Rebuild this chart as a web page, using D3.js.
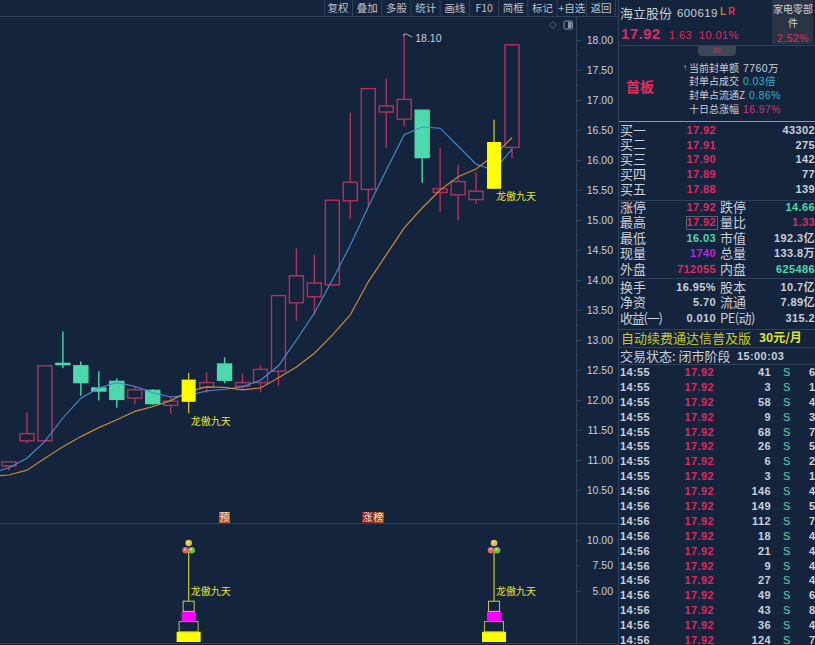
<!DOCTYPE html>
<html>
<head>
<meta charset="utf-8">
<script src="https://cdn.jsdelivr.net/npm/d3@7"></script>
<style>
html,body{margin:0;padding:0;background:#14243d;overflow:hidden}
text{font-family:"Liberation Sans","Noto Sans CJK SC",sans-serif}
.cjk{font-family:"Noto Sans CJK SC",sans-serif}
</style>
</head>
<body>
<svg id="chart" width="815" height="645"></svg>
<script>
// CANDLE DATA
var opens  = [10.90,11.32,11.32,12.61,12.57,12.20,12.31,12.03,12.16,11.91,11.97,12.21,12.60,12.23,12.29,12.48,13.62,13.72,13.92,15.32,15.51,16.80,16.68,16.83,15.46,15.42,15.34,15.52,16.21];
var closes = [10.97,11.44,12.57,12.59,12.29,12.15,12.01,12.17,11.94,11.98,12.34,12.29,12.33,12.29,12.51,13.74,14.07,13.95,15.33,15.63,17.19,16.90,17.01,16.04,15.52,15.64,15.48,16.30,17.92];
var highs  = [10.98,11.79,12.58,13.14,12.64,12.48,12.36,12.23,12.18,12.06,12.45,12.46,12.71,12.44,12.58,13.75,14.53,14.42,15.33,16.79,17.20,17.36,18.10,16.83,16.20,15.92,15.80,16.67,17.92];
var lows   = [10.82,11.28,11.32,12.53,12.07,11.99,11.87,11.93,11.92,11.77,11.78,12.12,12.28,12.17,12.13,12.23,13.32,13.42,13.90,15.02,15.25,16.20,16.56,15.62,15.14,14.99,15.27,15.52,16.03];
var signalDays = [10,27];

// MOVING AVERAGES, first point sits one day left of the first candle
var maFast = [10.78,10.87,11.03,11.31,11.70,12.03,12.20,12.29,12.23,12.12,12.05,12.08,12.15,12.18,12.22,12.33,12.57,13.00,13.45,14.00,14.58,15.22,15.83,16.42,16.55,16.53,16.23,15.93,15.83,16.18];
var maSlow = [10.73,10.75,10.83,11.03,11.22,11.39,11.54,11.67,11.81,11.89,11.99,12.14,12.22,12.21,12.17,12.20,12.37,12.55,12.78,13.08,13.42,13.97,14.42,14.87,15.20,15.50,15.72,15.85,16.08,16.37];

// AXES
var priceTicks = [18,17.5,17,16.5,16,15.5,15,14.5,14,13.5,13,12.5,12,11.5,11,10.5];
var priceMinorTicks = [17.75,17.25,16.75,16.25,15.75,15.25,14.75,14.25,13.75,13.25,12.75,12.25,11.75,11.25,10.75];
var lowerTicks = [10,7.5,5];
var toolbarLabels = ["复权","叠加","多股","统计","画线","F10","简框","标记","+自选","返回"];

// SIDE PANEL TEXT
var infoLabels = ["当前封单额","封单占成交","封单占流通Z","十日总涨幅"];
var infoValues = ["7760万","0.03倍","0.86%","16.97%"];
var bidLabels = ["买一","买二","买三","买四","买五"];
var bidPrices = ["17.92","17.91","17.90","17.89","17.88"];
var bidVolumes = ["43302","275","142","77","139"];
var statLabelsA = ["涨停","最高","最低","现量","外盘"];
var statValuesA = ["17.92","17.92","16.03","1740","712055"];
var statLabelsB = ["跌停","量比","市值","总量","内盘"];
var statValuesB = ["14.66","1.33","192.3亿","133.8万","625486"];
var fundLabelsA = ["换手","净资","收益(一)"];
var fundValuesA = ["16.95%","5.70","0.010"];
var fundLabelsB = ["股本","流通","PE(动)"];
var fundValuesB = ["10.7亿","7.89亿","315.2"];
var tickTimes = ["14:55","14:55","14:55","14:55","14:55","14:55","14:55","14:55","14:56","14:56","14:56","14:56","14:56","14:56","14:56","14:56","14:56","14:56","14:56"];
var tickVolumes = [41,3,58,9,68,26,6,3,146,149,112,18,21,9,27,49,43,36,124];
var tickCounts = [6,1,4,3,7,5,2,1,4,5,7,4,4,4,4,6,8,4,7];

var RED = "#b0325f", PINK = "#dd2a62", TEAL = "#4dd9ac", YELLOW = "#ffff00", GRID = "#2f425c", TXT = "#c9d0da";

var svg = d3.select("#chart");

var x = d3.scaleLinear().domain([0,28]).range([9,512]);
var y = d3.scaleLinear().domain([18,10.5]).range([40,490]);
var yLow = d3.scaleLinear().domain([0,10]).range([642,540]);

function label(g, txt, px, py, size, color, anchor, cls) {
    return g.append("text").attr("x",px).attr("y",py).attr("dy","0.36em")
        .attr("font-size",size).attr("fill",color).attr("text-anchor",anchor||"start")
        .attr("class",cls||null).text(txt);
}

// FRAME
var frame = svg.append("g").attr("stroke",GRID).attr("stroke-width",1);
frame.append("line").attr("x1",0).attr("x2",619).attr("y1",16.5).attr("y2",16.5);
frame.append("line").attr("x1",0).attr("x2",619).attr("y1",523.5).attr("y2",523.5);
frame.append("line").attr("x1",0).attr("x2",619).attr("y1",643.5).attr("y2",643.5);
frame.append("line").attr("x1",576.5).attr("x2",576.5).attr("y1",17).attr("y2",645);
frame.append("line").attr("x1",618.5).attr("x2",618.5).attr("y1",0).attr("y2",645);
frame.append("line").attr("x1",324.5).attr("x2",324.5).attr("y1",0).attr("y2",16);

// TOOLBAR
var toolX = d3.scalePoint().domain(d3.range(toolbarLabels.length)).range([338,601]);
var tool = svg.append("g");
toolbarLabels.forEach(function(d,i){
    label(tool,d,toolX(i),8,10.5,"#b9c2ce","middle","cjk");
    tool.append("line").attr("x1",toolX(i)+14.5).attr("x2",toolX(i)+14.5).attr("y1",0).attr("y2",16).attr("stroke",GRID);
});
svg.append("path").attr("d","M553 21.5l3.5 3.5-3.5 3.5-3.5-3.5z").attr("fill","none").attr("stroke","#56657a");
svg.append("rect").attr("x",564).attr("y",21).attr("width",8.5).attr("height",8).attr("rx",1.5).attr("fill","none").attr("stroke","#8a95a5");
svg.append("rect").attr("x",568).attr("y",22).attr("width",3.5).attr("height",6).attr("fill","#8a95a5");

// PRICE AXIS
var axisPrice = d3.axisRight(y).tickValues(priceTicks).tickFormat(d3.format(".2f")).tickSize(5);
var gAxis = svg.append("g").attr("transform","translate(576.5,0)").call(axisPrice);
gAxis.select(".domain").remove();
gAxis.selectAll("line").attr("stroke",GRID);
gAxis.selectAll("text").attr("x",36.5).attr("text-anchor","end").attr("fill",TXT).attr("font-size",10.5).attr("font-family","Liberation Sans");

var axisMinor = d3.axisRight(y).tickValues(priceMinorTicks).tickFormat("").tickSize(2);
var gMinor = svg.append("g").attr("transform","translate(576.5,0)").call(axisMinor);
gMinor.select(".domain").remove();
gMinor.selectAll("line").attr("stroke",GRID);

var axisLow = d3.axisRight(yLow).tickValues(lowerTicks).tickFormat(d3.format(".2f")).tickSize(4);
var gLow = svg.append("g").attr("transform","translate(576.5,0)").call(axisLow);
gLow.select(".domain").remove();
gLow.selectAll("line").attr("stroke",GRID);
gLow.selectAll("text").attr("x",36.5).attr("text-anchor","end").attr("fill",TXT).attr("font-size",10.5).attr("font-family","Liberation Sans");

// CANDLES
var days = d3.range(opens.length);
var bodyW = 14;
function candleColor(i){ return closes[i] >= opens[i] ? RED : TEAL; }
var plainDays = days.filter(function(i){return signalDays.indexOf(i)<0;});

var candles = svg.append("g");
candles.selectAll("line").data(plainDays).join("line")
    .attr("x1",function(i){return x(i);}).attr("x2",function(i){return x(i);})
    .attr("y1",function(i){return y(highs[i]);}).attr("y2",function(i){return y(lows[i]);})
    .attr("stroke",candleColor).attr("stroke-width",1.4);
candles.selectAll("rect").data(plainDays).join("rect")
    .attr("x",function(i){return x(i)-bodyW/2;}).attr("width",bodyW)
    .attr("y",function(i){return y(Math.max(opens[i],closes[i]));})
    .attr("height",function(i){return Math.abs(y(opens[i])-y(closes[i]));})
    .attr("fill",function(i){return closes[i]>=opens[i] ? "#14243d" : TEAL;})
    .attr("stroke",candleColor).attr("stroke-width",1.4);

// MOVING AVERAGES
var maLine = d3.line().x(function(d,i){return x(i-1);}).y(function(d){return y(d);});
svg.append("path").datum(maFast).attr("d",maLine).attr("fill","none").attr("stroke","#4b8fd0").attr("stroke-width",1.1);
svg.append("path").datum(maSlow).attr("d",maLine).attr("fill","none").attr("stroke","#c08a3a").attr("stroke-width",1.2);

// SIGNAL DAYS drawn over the averages
var signals = svg.append("g");
signalDays.forEach(function(i){
    signals.append("line").attr("x1",x(i)).attr("x2",x(i)).attr("y1",y(highs[i])).attr("y2",y(lows[i])).attr("stroke","#c9c920").attr("stroke-width",1.3);
    signals.append("rect").attr("x",x(i)-bodyW/2).attr("width",bodyW)
        .attr("y",y(closes[i])).attr("height",y(opens[i])-y(closes[i])).attr("fill",YELLOW);
    label(signals,"龙傲九天",x(i)+2,y(lows[i])+8,10,"#e6e62a","start","cjk");

    // lower panel tower
    var tower = svg.append("g");
    var levels = [[0,1,24,true,YELLOW],[1,2,19,false,"#b9b95a"],[2,3,14,true,"#ff00ff"],[3,4,11,false,"#c9c95a"]];
    levels.forEach(function(l){
        tower.append("rect").attr("x",x(i)-l[2]/2).attr("width",l[2])
            .attr("y",yLow(l[1])).attr("height",yLow(l[0])-yLow(l[1]))
            .attr("fill",l[3]?l[4]:"none").attr("stroke",l[3]?"none":l[4]);
    });
    tower.append("line").attr("x1",x(i)).attr("x2",x(i)).attr("y1",yLow(4)).attr("y2",yLow(9)).attr("stroke","#c9c920").attr("stroke-width",1.2);
    [[0,9.7,"#e8c050"],[-3,9,"#e06060"],[3,9,"#70c040"]].forEach(function(b){
        tower.append("circle").attr("cx",x(i)+b[0]).attr("cy",yLow(b[1])).attr("r",3.3).attr("fill",b[2]);
        tower.append("circle").attr("cx",x(i)+b[0]-0.6).attr("cy",yLow(b[1])-0.8).attr("r",1.1).attr("fill","#f6efe0").attr("opacity",0.7);
    });
    label(tower,"龙傲九天",x(i)+2,yLow(5),10,"#e6e62a","start","cjk");
});

// HIGH MARKER
var hiDay = d3.range(highs.length).reduce(function(a,b){return highs[b]>highs[a]?b:a;},0);
svg.append("path").attr("d","M"+(x(hiDay)-1)+" "+(y(highs[hiDay])+2)+"q1 -3 3 -2l6 3").attr("stroke","#aab4c0").attr("fill","none");
label(svg,d3.format(".2f")(highs[hiDay]),x(hiDay)+11,y(highs[hiDay])+4,10.5,TXT,"start");

// BADGES
[[219,11,"预","#b4552b"],[362,11,"涨","#8a1a1a"],[373,11,"榜","#8f4a1c"]].forEach(function(b){
    svg.append("rect").attr("x",b[0]).attr("y",512).attr("width",b[1]).attr("height",11).attr("fill",b[3]);
    label(svg,b[2],b[0]+b[1]/2,517.5,10,"#f2e4d8","middle","cjk");
});

// SIDE PANEL
var side = svg.append("g");
var NUM = "Liberation Sans";
function num(txt,px,py,size,color,anchor,bold){
    var t = label(side,txt,px,py,size,color,anchor);
    t.attr("font-weight",bold?"bold":null).attr("letter-spacing",0.4);
    return t;
}
label(side,"海立股份",620,13,13,TXT,"start","cjk");
num("600619",677,13,11.5,TXT);
num("L",720,11,10,"#d8782a",null,true); num("R",728,11,10,"#e03050",null,true);
num("17.92",621,34,15,PINK,"start",true);
num("1.63",669,35,11,PINK); num("10.01%",699,35,11,PINK);

side.append("rect").attr("x",772).attr("y",0).attr("width",41).attr("height",44).attr("fill","#2b3444");
label(side,"家电零部",793,9,10,TXT,"middle","cjk");
label(side,"件",793,23,10,TXT,"middle","cjk");
num("2.52%",793,38,10.5,PINK,"middle");

[45,121,200,278,329,347,364].forEach(function(py){
    side.append("line").attr("x1",619).attr("x2",815).attr("y1",py+0.5).attr("y2",py+0.5)
        .attr("stroke",py==121?"#b8935a":GRID);
});
side.append("path").attr("d","M698 46h38v5q0 5-5 5h-28q-5 0-5-5z").attr("fill","#3c4758");
side.append("path").attr("d","M713 50l4-2 4 2M713 53l4-2 4 2").attr("fill","none").attr("stroke","#d83050");

label(side,"首板",626,87,14,"#ea2a58","start","cjk").attr("font-weight","bold");
var infoY = d3.scalePoint().domain(d3.range(4)).range([68,109]);
infoLabels.forEach(function(d,i){
    label(side,d,689,infoY(i),10,TXT,"start","cjk");
    var vx = i==2 ? 749 : 743;
    var col = i==0 ? TXT : (i==3 ? "#c43a7a" : "#2bb6c8");
    var t = num(infoValues[i],vx,infoY(i),10.5,col);
    t.style("font-family",NUM+",'Noto Sans CJK SC'");
});
label(side,"↑",683,67,8,TXT,"start");

var bidY = d3.scalePoint().domain(d3.range(5)).range([130,189]);
bidLabels.forEach(function(d,i){
    label(side,d,620,bidY(i),13,TXT,"start","cjk");
    num(bidPrices[i],716,bidY(i),11,PINK,"end",true);
    num(bidVolumes[i],815,bidY(i),11,TXT,"end",true);
});

var statY = d3.scalePoint().domain(d3.range(5)).range([207,269]);
var statColA = [PINK,PINK,TEAL,"#c022d8",PINK];
var statColB = [TEAL,PINK,TXT,TXT,TEAL];
statLabelsA.forEach(function(d,i){
    label(side,d,620,statY(i),13,TXT,"start","cjk");
    num(statValuesA[i],716,statY(i),11,statColA[i],"end",true);
    label(side,statLabelsB[i],720,statY(i),13,TXT,"start","cjk");
    num(statValuesB[i],815,statY(i),11,statColB[i],"end",true);
});
side.append("rect").attr("x",686.5).attr("y",216.5).attr("width",31).attr("height",13).attr("fill","none").attr("stroke","#5b6270");

var fundY = d3.scalePoint().domain(d3.range(3)).range([287,318]);
fundLabelsA.forEach(function(d,i){
    label(side,d,620,fundY(i),13,TXT,"start","cjk").attr("letter-spacing",i==2?-1.2:null);
    num(fundValuesA[i],716,fundY(i),11,TXT,"end",true);
    label(side,fundLabelsB[i],720,fundY(i),13,TXT,"start","cjk").attr("letter-spacing",i==2?-0.6:null);
    num(fundValuesB[i],815,fundY(i),11,TXT,"end",true);
});

label(side,"自动续费通达信普及版",621,338,13,"#c8c828","start","cjk");
label(side,"30元/月",759,338,12,"#e6e628","start","cjk").attr("font-weight","bold");
label(side,"交易状态: 闭市阶段",620,356,13,TXT,"start","cjk");
num("15:00:03",737,356,11,TXT,"start",true);

var rowY = d3.scalePoint().domain(d3.range(tickTimes.length)).range([372,640]);
tickTimes.forEach(function(d,i){
    num(d,620,rowY(i),11,TXT,"start",true);
    num("17.92",714,rowY(i),11,PINK,"end",true);
    num(tickVolumes[i],771,rowY(i),11,TXT,"end",true);
    num("S",783,rowY(i),11,TEAL,"start");
    num(tickCounts[i],809,rowY(i),11,TXT,"start",true);
});
</script>
</body>
</html>
